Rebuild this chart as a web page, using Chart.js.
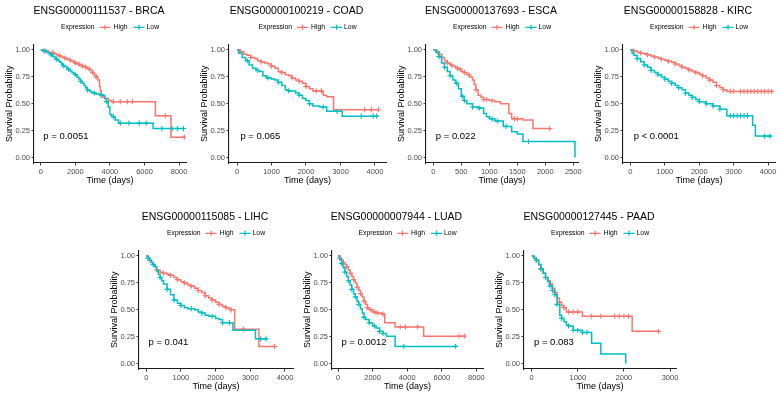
<!DOCTYPE html>
<html>
<head>
<meta charset="utf-8">
<script src="https://cdn.jsdelivr.net/npm/chart.js@4.4.0/dist/chart.umd.min.js"></script>
<style>
  html, body { margin: 0; padding: 0; background: #fff; overflow: hidden; }
  body { width: 780px; height: 393px; position: relative; }
  canvas.km { position: absolute; }
</style>
</head>
<body>
<script>
// --- Data (time in days, survival probability) ---
const yTicks = [0, 0.25, 0.5, 0.75, 1];
const groups = ['High', 'Low'];

// BRCA
const brcaTicks = [0, 2000, 4000, 6000, 8000];
const brcaHighTime = [0, 150, 300, 450, 600, 750, 900, 1050, 1200, 1350, 1500, 1650, 1800, 1950, 2100, 2250, 2400, 2550, 2700, 2850, 3000, 3100, 3200, 3300, 3400, 3450, 3500, 3600, 3700, 3900, 4100, 6630, 7530, 8300];
const brcaHighSurv = [1, 0.995, 0.99, 0.98, 0.975, 0.965, 0.955, 0.945, 0.935, 0.925, 0.915, 0.905, 0.895, 0.88, 0.87, 0.86, 0.85, 0.84, 0.825, 0.81, 0.79, 0.77, 0.75, 0.72, 0.66, 0.62, 0.58, 0.56, 0.55, 0.53, 0.52, 0.39, 0.19, 0.19];
const brcaHighCens = [300, 700, 1100, 1400, 1700, 2000, 2200, 2400, 2600, 2800, 3000, 3200, 3500, 4200, 4600, 5000, 5300, 7200, 8300];
const brcaLowTime = [0, 100, 200, 300, 400, 500, 600, 700, 800, 900, 1000, 1100, 1200, 1300, 1400, 1500, 1600, 1700, 1800, 1900, 2000, 2100, 2200, 2300, 2400, 2500, 2600, 2700, 2800, 2900, 3000, 3200, 3400, 3600, 3700, 3800, 3900, 4000, 4100, 4300, 4500, 6500, 8300];
const brcaLowSurv = [1, 0.995, 0.99, 0.985, 0.975, 0.965, 0.955, 0.94, 0.93, 0.915, 0.9, 0.885, 0.87, 0.855, 0.845, 0.835, 0.82, 0.805, 0.79, 0.78, 0.77, 0.75, 0.73, 0.71, 0.69, 0.67, 0.65, 0.63, 0.62, 0.61, 0.6, 0.59, 0.585, 0.58, 0.55, 0.52, 0.47, 0.4, 0.38, 0.35, 0.32, 0.27, 0.27];
const brcaLowCens = [200, 600, 900, 1300, 1600, 2000, 2300, 2700, 3100, 3500, 3800, 4200, 4600, 5100, 5700, 6100, 7000, 7600, 7900, 8250];

// COAD
const coadTicks = [0, 1000, 2000, 3000, 4000];
const coadHighTime = [0, 100, 200, 300, 400, 500, 600, 700, 800, 900, 1000, 1100, 1200, 1300, 1400, 1500, 1600, 1700, 1800, 1900, 2000, 2100, 2200, 2500, 2600, 2800, 4100];
const coadHighSurv = [1, 0.985, 0.96, 0.95, 0.93, 0.92, 0.9, 0.89, 0.88, 0.87, 0.85, 0.83, 0.8, 0.79, 0.77, 0.76, 0.74, 0.72, 0.71, 0.69, 0.66, 0.64, 0.62, 0.58, 0.565, 0.445, 0.445];
const coadHighCens = [100, 400, 700, 1000, 1300, 1600, 1800, 2000, 2300, 2450, 3700, 3900, 4100];
const coadLowTime = [0, 50, 150, 250, 350, 450, 550, 650, 750, 850, 1000, 1100, 1200, 1300, 1400, 1500, 1700, 1800, 1900, 2000, 2100, 2200, 2400, 2600, 3050, 4100];
const coadLowSurv = [1, 0.97, 0.93, 0.9, 0.86, 0.83, 0.81, 0.8, 0.76, 0.74, 0.73, 0.72, 0.7, 0.67, 0.63, 0.62, 0.6, 0.58, 0.55, 0.53, 0.5, 0.48, 0.47, 0.43, 0.385, 0.385];
const coadLowCens = [300, 600, 900, 1200, 1500, 1800, 2100, 2500, 2900, 3600, 3950, 4050];

// ESCA
const escaTicks = [0, 500, 1000, 1500, 2000, 2500];
const escaHighTime = [0, 50, 100, 150, 200, 250, 300, 350, 400, 450, 500, 550, 600, 650, 700, 730, 760, 800, 850, 900, 1000, 1100, 1200, 1350, 1400, 1600, 1780, 2080];
const escaHighSurv = [1, 0.98, 0.96, 0.93, 0.9, 0.88, 0.86, 0.85, 0.83, 0.82, 0.8, 0.79, 0.77, 0.75, 0.72, 0.68, 0.63, 0.58, 0.56, 0.54, 0.53, 0.52, 0.5, 0.41, 0.36, 0.35, 0.27, 0.27];
const escaHighCens = [80, 150, 250, 330, 430, 480, 560, 640, 760, 900, 950, 1050, 1450, 1500, 2080];
const escaLowTime = [0, 50, 100, 150, 200, 250, 300, 350, 400, 450, 500, 550, 600, 700, 800, 900, 950, 1000, 1100, 1250, 1400, 1500, 1600, 2530];
const escaLowSurv = [1, 0.98, 0.94, 0.88, 0.84, 0.8, 0.76, 0.72, 0.69, 0.64, 0.57, 0.53, 0.5, 0.47, 0.46, 0.41, 0.38, 0.36, 0.34, 0.29, 0.24, 0.22, 0.15, 0];
const escaLowCens = [100, 200, 300, 420, 520, 560, 700, 820, 1050, 1150, 1300, 1700];

// KIRC
const kircTicks = [0, 1000, 2000, 3000, 4000];
const kircHighTime = [0, 100, 200, 300, 400, 500, 600, 700, 800, 900, 1000, 1100, 1200, 1300, 1400, 1500, 1600, 1700, 1800, 1900, 2000, 2100, 2200, 2300, 2400, 2500, 2600, 2700, 2800, 4100];
const kircHighSurv = [1, 0.99, 0.98, 0.97, 0.965, 0.955, 0.945, 0.935, 0.925, 0.915, 0.905, 0.895, 0.885, 0.87, 0.855, 0.84, 0.83, 0.815, 0.8, 0.79, 0.775, 0.76, 0.74, 0.72, 0.7, 0.67, 0.65, 0.63, 0.615, 0.615];
const kircHighCens = [100, 300, 500, 700, 900, 1100, 1300, 1500, 1700, 1900, 2100, 2300, 2500, 2700, 2900, 3000, 3200, 3300, 3400, 3500, 3600, 3700, 3800, 3900, 4000, 4100];
const kircLowTime = [0, 50, 100, 200, 300, 400, 500, 600, 700, 800, 900, 1000, 1100, 1200, 1300, 1400, 1500, 1600, 1700, 1800, 1900, 2000, 2200, 2400, 2600, 2800, 3550, 3630, 4100];
const kircLowSurv = [1, 0.97, 0.95, 0.92, 0.89, 0.86, 0.84, 0.81, 0.79, 0.77, 0.75, 0.73, 0.71, 0.69, 0.67, 0.65, 0.63, 0.6, 0.58, 0.56, 0.54, 0.52, 0.5, 0.48, 0.45, 0.39, 0.3, 0.2, 0.2];
const kircLowCens = [200, 400, 600, 800, 1000, 1200, 1400, 1600, 1800, 2000, 2200, 2400, 2600, 2900, 3000, 3100, 3200, 3300, 3400, 3900, 4050];

// LIHC
const lihcTicks = [0, 1000, 2000, 3000, 4000];
const lihcHighTime = [0, 50, 100, 150, 200, 250, 300, 400, 500, 600, 700, 800, 900, 1000, 1100, 1200, 1300, 1400, 1500, 1600, 1700, 1800, 1900, 2000, 2100, 2200, 2300, 2400, 2550, 3250, 3700];
const lihcHighSurv = [1, 0.98, 0.96, 0.94, 0.92, 0.9, 0.87, 0.85, 0.84, 0.83, 0.82, 0.8, 0.78, 0.76, 0.75, 0.73, 0.72, 0.7, 0.68, 0.66, 0.63, 0.61, 0.59, 0.57, 0.55, 0.53, 0.52, 0.5, 0.32, 0.16, 0.16];
const lihcHighCens = [100, 300, 500, 700, 900, 1100, 1300, 1500, 1700, 1900, 2100, 2300, 2450, 2800, 3700];
const lihcLowTime = [0, 50, 100, 150, 200, 250, 300, 350, 400, 450, 500, 600, 700, 800, 900, 1000, 1100, 1200, 1400, 1500, 1600, 1700, 1800, 2000, 2100, 2200, 2500, 3150, 3500];
const lihcLowSurv = [1, 0.98, 0.96, 0.94, 0.92, 0.9, 0.86, 0.83, 0.8, 0.77, 0.74, 0.69, 0.64, 0.59, 0.56, 0.54, 0.52, 0.51, 0.5, 0.48, 0.47, 0.45, 0.44, 0.42, 0.41, 0.38, 0.31, 0.23, 0.23];
const lihcLowCens = [50, 200, 400, 600, 800, 1000, 1300, 1600, 1900, 2200, 2400, 3300, 3450];

// LUAD
const luadTicks = [0, 2000, 4000, 6000, 8000];
const luadHighTime = [0, 100, 200, 300, 400, 500, 600, 700, 800, 900, 1000, 1100, 1200, 1300, 1400, 1500, 1600, 1700, 1800, 2000, 2200, 2500, 2700, 3300, 4950, 7300];
const luadHighSurv = [1, 0.98, 0.96, 0.94, 0.92, 0.9, 0.87, 0.84, 0.81, 0.78, 0.75, 0.71, 0.68, 0.65, 0.62, 0.58, 0.55, 0.52, 0.5, 0.48, 0.47, 0.46, 0.38, 0.34, 0.255, 0.255];
const luadHighCens = [100, 300, 500, 700, 900, 1100, 1300, 1500, 1700, 1900, 2100, 2300, 2600, 3600, 3900, 4600, 7000, 7300];
const luadLowTime = [0, 100, 200, 300, 400, 500, 600, 700, 800, 900, 1000, 1100, 1200, 1300, 1400, 1500, 1600, 1800, 2000, 2200, 2400, 2600, 2800, 3300, 6800];
const luadLowSurv = [1, 0.97, 0.93, 0.89, 0.85, 0.81, 0.77, 0.73, 0.69, 0.65, 0.62, 0.58, 0.55, 0.51, 0.47, 0.43, 0.41, 0.38, 0.35, 0.33, 0.3, 0.28, 0.255, 0.16, 0.16];
const luadLowCens = [200, 400, 600, 800, 1000, 1200, 1500, 1800, 2100, 2400, 2600, 3800, 6800];

// PAAD
const paadTicks = [0, 1000, 2000, 3000];
const paadHighTime = [0, 50, 100, 150, 200, 250, 300, 350, 400, 450, 500, 550, 600, 650, 700, 750, 1100, 2180, 2750];
const paadHighSurv = [1, 0.98, 0.96, 0.92, 0.88, 0.84, 0.8, 0.77, 0.74, 0.7, 0.66, 0.61, 0.57, 0.54, 0.52, 0.48, 0.44, 0.3, 0.3];
const paadHighCens = [100, 200, 300, 400, 500, 600, 700, 800, 900, 1000, 1300, 1500, 1800, 1900, 2000, 2100, 2750];
const paadLowTime = [0, 50, 100, 150, 200, 250, 300, 350, 400, 450, 500, 550, 610, 650, 700, 750, 800, 900, 1100, 1300, 1500, 2040];
const paadLowSurv = [1, 0.98, 0.96, 0.92, 0.88, 0.84, 0.8, 0.76, 0.72, 0.68, 0.64, 0.55, 0.45, 0.42, 0.39, 0.36, 0.35, 0.31, 0.29, 0.19, 0.09, 0];
const paadLowCens = [100, 200, 300, 400, 450, 500, 550, 650, 800, 900, 1000, 1100, 1200];

// --- Panel setup (placement on the page) ---
const FONT = '"Liberation Sans", Arial, sans-serif';
const COLORS = { High: '#F8766D', Low: '#00BFC4' };
const Y_AXIS_W = 34, X_AXIS_H = 27, PAD_R = 12, PAD_T = 44.6, CANVAS_H = 190;

const panels = [
  { title: 'ENSG00000111537 - BRCA', left: 0, top: 0, areaW: 152, xMin: -390, xMax: 8400, ticks: brcaTicks, pval: 'p = 0.0051', pX: 150,
    High: [brcaHighTime, brcaHighSurv, brcaHighCens], Low: [brcaLowTime, brcaLowSurv, brcaLowCens] },
  { title: 'ENSG00000100219 - COAD', left: 195, top: 0, areaW: 157, xMin: -232, xMax: 4320, ticks: coadTicks, pval: 'p = 0.065', pX: 100,
    High: [coadHighTime, coadHighSurv, coadHighCens], Low: [coadLowTime, coadLowSurv, coadLowCens] },
  { title: 'ENSG00000137693 - ESCA', left: 392, top: 0, areaW: 152, xMin: -130, xMax: 2584, ticks: escaTicks, pval: 'p = 0.022', pX: 45,
    High: [escaHighTime, escaHighSurv, escaHighCens], Low: [escaLowTime, escaLowSurv, escaLowCens] },
  { title: 'ENSG00000158828 - KIRC', left: 589, top: 0, areaW: 152, xMin: -215, xMax: 4200, ticks: kircTicks, pval: 'p < 0.0001', pX: 96,
    High: [kircHighTime, kircHighSurv, kircHighCens], Low: [kircLowTime, kircLowSurv, kircLowCens] },
  { title: 'ENSG00000115085 - LIHC', left: 105, top: 206, areaW: 154, xMin: -208, xMax: 4231, ticks: lihcTicks, pval: 'p = 0.041', pX: 66,
    High: [lihcHighTime, lihcHighSurv, lihcHighCens], Low: [lihcLowTime, lihcLowSurv, lihcLowCens] },
  { title: 'ENSG00000007944 - LUAD', left: 298, top: 206, areaW: 151, xMin: -347, xMax: 8381, ticks: luadTicks, pval: 'p = 0.0012', pX: 196,
    High: [luadHighTime, luadHighSurv, luadHighCens], Low: [luadLowTime, luadLowSurv, luadLowCens] },
  { title: 'ENSG00000127445 - PAAD', left: 490, top: 206, areaW: 152, xMin: -167, xMax: 3130, ticks: paadTicks, pval: 'p = 0.083', pX: 50,
    High: [paadHighTime, paadHighSurv, paadHighCens], Low: [paadLowTime, paadLowSurv, paadLowCens] }
];

// survival value of the step curve at time t
const survAt = (times, survs, t) => {
  let i = 0;
  while (i + 1 < times.length && times[i + 1] <= t) i++;
  return survs[i];
};

// title, legend ("Expression  -+- High  -+- Low") and the p-value text
const kmNotes = {
  id: 'kmNotes',
  afterDraw(chart, args, opts) {
    const { ctx, chartArea, scales } = chart;
    const mid = (chartArea.left + chartArea.right) / 2;
    ctx.save();
    ctx.textBaseline = 'middle';

    // title
    ctx.font = '10.5px ' + FONT;
    ctx.fillStyle = '#000';
    ctx.textAlign = 'center';
    ctx.fillText(opts.title, mid - 11, chartArea.top - 33);

    // legend
    ctx.font = '6.8px ' + FONT;
    ctx.textAlign = 'left';
    const keyW = 11;
    const wExp = ctx.measureText('Expression').width;
    const wHigh = ctx.measureText('High').width;
    const wLow = ctx.measureText('Low').width;
    const total = wExp + 5 + keyW + 3 + wHigh + 6 + keyW + 2 + wLow;
    const y = chartArea.top - 17.3;
    let x = mid - total / 2;
    ctx.fillText('Expression', x, y);
    x += wExp + 5;
    const drawKey = (kx, color) => {
      ctx.strokeStyle = color;
      ctx.lineWidth = 1.3;
      ctx.beginPath();
      ctx.moveTo(kx, y); ctx.lineTo(kx + keyW, y);
      ctx.moveTo(kx + keyW / 2, y - 2.5); ctx.lineTo(kx + keyW / 2, y + 2.5);
      ctx.stroke();
    };
    drawKey(x, COLORS.High);
    x += keyW + 3;
    ctx.fillText('High', x, y);
    x += wHigh + 6;
    drawKey(x, COLORS.Low);
    x += keyW + 2;
    ctx.fillText('Low', x, y);

    // p-value
    ctx.font = '9.5px ' + FONT;
    ctx.fillText(opts.text, scales.x.getPixelForValue(opts.x), scales.y.getPixelForValue(0.2));
    ctx.restore();
  }
};

panels.forEach(p => {
  const canvas = document.createElement('canvas');
  canvas.className = 'km';
  const w = p.areaW + Y_AXIS_W + PAD_R;
  canvas.width = w;
  canvas.height = CANVAS_H;
  canvas.style.left = p.left + 'px';
  canvas.style.top = p.top + 'px';
  canvas.style.width = w + 'px';
  canvas.style.height = CANVAS_H + 'px';
  document.body.appendChild(canvas);

  // Low is listed first so it is drawn on top
  const datasets = [];
  groups.slice().reverse().forEach(g => {
    const [times, survs, cens] = p[g];
    datasets.push({
      label: g,
      data: times.map((t, i) => ({ x: t, y: survs[i] })),
      stepped: 'before',
      borderColor: COLORS[g],
      borderWidth: 1.5,
      pointRadius: 0,
      fill: false
    });
    datasets.push({
      label: g + ' censored',
      data: cens.map(t => ({ x: t, y: survAt(times, survs, t) })),
      showLine: false,
      pointStyle: 'cross',
      pointRadius: 2.6,
      pointBorderWidth: 1.1,
      borderColor: COLORS[g],
      backgroundColor: COLORS[g]
    });
  });

  new Chart(canvas.getContext('2d'), {
    type: 'line',
    data: { datasets },
    plugins: [kmNotes],
    options: {
      responsive: false,
      animation: false,
      events: [],
      layout: { padding: { left: 0, right: PAD_R, top: PAD_T, bottom: 0 } },
      plugins: {
        legend: { display: false },
        tooltip: { enabled: false },
        title: { display: false },
        kmNotes: { title: p.title, text: p.pval, x: p.pX }
      },
      scales: {
        x: {
          type: 'linear',
          min: p.xMin,
          max: p.xMax,
          afterBuildTicks: axis => { axis.ticks = p.ticks.map(v => ({ value: v })); },
          afterFit: axis => { axis.height = X_AXIS_H; },
          ticks: { autoSkip: false, maxRotation: 0, padding: 1.5, color: '#4D4D4D', font: { family: FONT, size: 7.5 }, callback: v => String(v) },
          grid: { drawOnChartArea: false, drawTicks: true, tickLength: 2.5, color: '#333' },
          border: { display: true, color: '#1a1a1a', width: 1.1 },
          title: { display: true, text: 'Time (days)', color: '#000', font: { family: FONT, size: 9 }, padding: { top: 0, bottom: 4 } }
        },
        y: {
          type: 'linear',
          min: -0.05,
          max: 1.05,
          afterBuildTicks: axis => { axis.ticks = yTicks.map(v => ({ value: v })); },
          afterFit: axis => { axis.width = Y_AXIS_W; },
          ticks: { padding: 1.5, color: '#4D4D4D', font: { family: FONT, size: 7.5 }, callback: v => v.toFixed(2) },
          grid: { drawOnChartArea: false, drawTicks: true, tickLength: 2.5, color: '#333' },
          border: { display: true, color: '#1a1a1a', width: 1.1 },
          title: { display: true, text: 'Survival Probability', color: '#000', font: { family: FONT, size: 9 }, padding: { top: 4, bottom: 0 } }
        }
      }
    }
  });
});
</script>
</body>
</html>
